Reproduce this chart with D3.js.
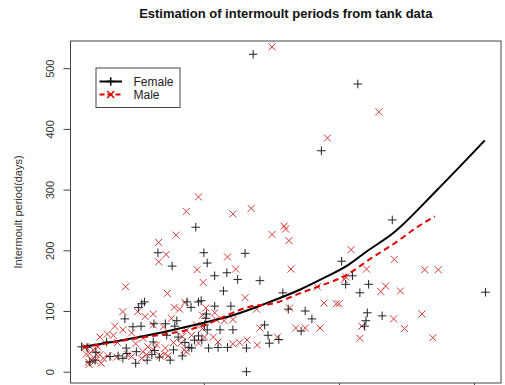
<!DOCTYPE html>
<html>
<head>
<meta charset="utf-8">
<script src="https://cdn.jsdelivr.net/npm/d3@7"></script>
<style>
  body { margin: 0; background: #fff; }
  svg { display: block; font-family: "Liberation Sans", Arial, sans-serif; }
</style>
</head>
<body>
<div id="chart"></div>
<script>
// female observations (+)
var femaleX = [27.3, 42.8, 37.4, 47.9, 61.7, 18.8, 13.2, 20.0, 26.1, 15.3, 20.5, 21.6, 23.4, 25.0, 28.3,
  22.9, 31.7, 40.4, 41.0, 42.0, 43.1, 44.4, 32.5, 35.0, 36.0, 34.4, 44.2, 46.4, 44.0, 43.8,
  29.0, 29.5, 31.1, 29.7, 26.3, 26.3, 11.2, 10.8, 10.3, 8.3, 9.5, 10.7, 17.5, 19.2, 19.6,
  18.1, 21.6, 24.0, 20.4, 20.3, 20.5, 22.4, 24.3, 20.1, 22.1, 23.5, 20.7, 18.2, 16.0, 15.7,
  14.3, 12.6, 14.5, 16.2, 12.5, 17.2, 19.2, 18.6, 19.7, 17.8, 15.5, 12.7, 13.4, 11.6, 9.9,
  8.6, 8.5, 10.0, 7.3, 6.1, 4.0, 5.6, 3.9, 3.1, 1.9, 2.7, 8.0, 16.8, 15.0, 12.3];
var femaleY = [523, 474, 364, 250, 131, 238, 196, 196, 195, 174, 179, 158, 163, 152, 150,
  133, 130, 182, 144, 158, 130, 144, 103, 100, 87, 67, 97, 92, 84, 75,
  77, 60, 53, 47, 39, 0, 115, 112, 106, 87, 74, 75, 115, 115, 117,
  106, 108, 108, 95, 88, 69, 69, 69, 77, 40, 40, 39, 39, 84, 75,
  79, 79, 60, 57, 49, 48, 59, 52, 52, 40, 36, 35, 24, 19, 14,
  30, 39, 33, 26, 25, 32, 49, 19, 16, 41, 40, 22, 26, 19, 28];

// male observations (x)
var maleX = [30.1, 45.9, 38.3, 19.2, 17.4, 24.3, 27.0, 15.9, 30.1, 13.3, 14.4, 13.3, 23.5, 19.0, 24.7,
  31.9, 32.1, 32.6, 41.8, 48.2, 32.9, 44.1, 52.7, 54.7, 40.8, 41.0, 46.9, 46.2, 49.1, 36.8,
  37.8, 39.6, 40.0, 32.7, 48.1, 52.3, 43.4, 37.2, 35.0, 49.7, 43.1, 53.9, 30.9, 19.9, 8.4,
  14.6, 26.1, 33.6, 28.3, 27.9, 26.4, 25.3, 24.3, 15.6, 16.4, 17.2, 15.2, 12.5, 11.3, 10.2,
  8.0, 12.5, 14.0, 8.0, 9.3, 11.0, 9.9, 6.8, 5.7, 4.6, 7.2, 19.8, 20.3, 21.6, 21.8,
  23.0, 24.3, 19.8, 18.9, 17.4, 18.2, 21.4, 22.1, 20.1, 19.2, 16.8, 16.6, 15.5, 14.3, 13.0,
  11.7, 11.0, 14.2, 17.1, 14.7, 17.4, 11.5, 9.3, 7.1, 5.8, 4.6, 4.3, 3.6, 3.1, 4.1,
  3.4, 2.9, 3.0, 2.5, 2.3, 6.6, 4.8, 5.1, 8.7, 10.8, 12.5, 13.5, 2.6, 3.9, 27.8];
var maleY = [535, 428, 385, 288, 264, 260, 269, 225, 226, 213, 193, 181, 189, 168, 169,
  240, 235, 216, 201, 185, 169, 169, 168, 168, 152, 156, 141, 132, 133, 140,
  113, 112, 112, 105, 87, 95, 75, 72, 72, 71, 55, 56, 57, 147, 140,
  129, 122, 72, 72, 44, 52, 48, 46, 106, 103, 114, 88, 95, 91, 99,
  99, 77, 74, 69, 64, 55, 46, 75, 62, 57, 48, 93, 105, 97, 86,
  84, 86, 71, 77, 68, 60, 57, 49, 57, 47, 58, 47, 48, 39, 44,
  41, 33, 29, 36, 26, 33, 28, 25, 24, 26, 28, 41, 36, 30, 28,
  19, 16, 12, 41, 40, 60, 14, 22, 28, 22, 36, 26, 29, 18, 103];

// fitted curves
var femaleFitX = [2.1, 9.5, 19.4, 24.3, 29.3, 34.2, 37.7, 41.4, 44.1, 48.0, 54.5, 61.6];
var femaleFitY = [41, 55, 79, 93, 113, 135, 154, 176, 198, 228, 299, 381];
var maleFitX = [2.1, 9.5, 19.4, 26.8, 30.5, 34.2, 36.9, 40.9, 44.8, 48.3, 51.7, 54.2];
var maleFitY = [40, 54, 74, 107, 113, 129, 140, 158, 187, 212, 239, 256];

var yTicks = [0, 100, 200, 300, 400, 500];
var xTicks = [20, 40, 60];
var legendLabels = ["Female", "Male"];

var width = 505, height = 385;
var plotLeft = 70.5, plotRight = 501, plotTop = 41, plotBottom = 383;

var svg = d3.select("#chart").append("svg")
  .attr("width", width)
  .attr("height", height);

var x = d3.scaleLinear().domain([0.25, 64]).range([plotLeft, plotRight]);
var y = d3.scaleLinear().domain([-18.6, 544.8]).range([plotBottom, plotTop]);

// title
svg.append("text")
  .attr("x", (plotLeft + plotRight) / 2)
  .attr("y", 18)
  .attr("text-anchor", "middle")
  .style("font-size", "13px")
  .style("font-weight", "bold")
  .style("fill", "#111")
  .text("Estimation of intermoult periods from tank data");

// y axis label
svg.append("text")
  .attr("transform", "translate(22," + ((plotTop + plotBottom) / 2) + ") rotate(-90)")
  .attr("text-anchor", "middle")
  .style("font-size", "11px")
  .style("fill", "#333")
  .text("Intermoult period(days)");

// y axis, R style with rotated labels
var yAxis = svg.append("g")
  .attr("transform", "translate(" + plotLeft + ",0)")
  .call(d3.axisLeft(y).tickValues(yTicks).tickSize(7).tickPadding(0));
yAxis.select(".domain").remove();
yAxis.selectAll("line").attr("stroke", "#444");
yAxis.selectAll("text")
  .attr("transform", "rotate(-90)")
  .attr("x", 0)
  .attr("y", -17)
  .attr("dy", 0)
  .attr("text-anchor", "middle")
  .style("font-size", "11px")
  .style("font-family", "Liberation Sans, Arial, sans-serif")
  .style("fill", "#333");

// x axis ticks (labels fall below the picture)
var xAxis = svg.append("g")
  .attr("transform", "translate(0," + plotBottom + ")")
  .call(d3.axisBottom(x).tickValues(xTicks).tickSize(7).tickFormat(""));
xAxis.select(".domain").remove();
xAxis.selectAll("line").attr("stroke", "#444");

// plot box
svg.append("rect")
  .attr("x", plotLeft)
  .attr("y", plotTop)
  .attr("width", plotRight - plotLeft)
  .attr("height", plotBottom - plotTop)
  .attr("fill", "none")
  .attr("stroke", "#444")
  .attr("stroke-width", 1);

var female = femaleX.map(function(d, i) { return [d, femaleY[i]]; });
var male = maleX.map(function(d, i) { return [d, maleY[i]]; });

function plus(s) { return "M" + (-s) + ",0H" + s + "M0," + (-s) + "V" + s; }
function cross(s) { return "M" + (-s) + "," + (-s) + "L" + s + "," + s + "M" + (-s) + "," + s + "L" + s + "," + (-s); }

// male points
svg.append("g").selectAll("path")
  .data(male)
  .enter().append("path")
  .attr("transform", function(d) { return "translate(" + x(d[0]) + "," + y(d[1]) + ")"; })
  .attr("d", cross(3.5))
  .attr("stroke", "#d43a3a")
  .attr("stroke-width", 1)
  .attr("fill", "none");

// female points
svg.append("g").selectAll("path")
  .data(female)
  .enter().append("path")
  .attr("transform", function(d) { return "translate(" + x(d[0]) + "," + y(d[1]) + ")"; })
  .attr("d", plus(4.3))
  .attr("stroke", "#222")
  .attr("stroke-width", 1)
  .attr("fill", "none");

// fitted lines
var line = d3.line()
  .x(function(d) { return x(d[0]); })
  .y(function(d) { return y(d[1]); })
  .curve(d3.curveMonotoneX);

svg.append("path")
  .datum(femaleFitX.map(function(d, i) { return [d, femaleFitY[i]]; }))
  .attr("d", line)
  .attr("fill", "none")
  .attr("stroke", "#000")
  .attr("stroke-width", 2);

svg.append("path")
  .datum(maleFitX.map(function(d, i) { return [d, maleFitY[i]]; }))
  .attr("d", line)
  .attr("fill", "none")
  .attr("stroke", "#e00000")
  .attr("stroke-width", 2)
  .attr("stroke-dasharray", "6,4");

// legend
var legend = svg.append("g").attr("transform", "translate(96,68)");
legend.append("rect")
  .attr("width", 84)
  .attr("height", 39.5)
  .attr("fill", "#fff")
  .attr("stroke", "#444");

var rows = legend.selectAll(".legend")
  .data(legendLabels)
  .enter().append("g")
  .attr("class", "legend")
  .attr("transform", function(d, i) { return "translate(0," + (13.5 + i * 13) + ")"; });

rows.append("line")
  .attr("x1", 3.5).attr("x2", 26)
  .attr("stroke", function(d, i) { return i === 0 ? "#000" : "#e00000"; })
  .attr("stroke-width", 2)
  .attr("stroke-dasharray", function(d, i) { return i === 0 ? null : "5,3"; });

rows.append("path")
  .attr("transform", "translate(14.7,0)")
  .attr("d", function(d, i) { return i === 0 ? plus(4.3) : cross(3.5); })
  .attr("stroke", function(d, i) { return i === 0 ? "#000" : "#e00000"; })
  .attr("stroke-width", 1.5)
  .attr("fill", "none");

rows.append("text")
  .attr("x", 37.5)
  .attr("y", 4.5)
  .style("font-size", "12px")
  .style("fill", "#222")
  .text(function(d) { return d; });
</script>
</body>
</html>
